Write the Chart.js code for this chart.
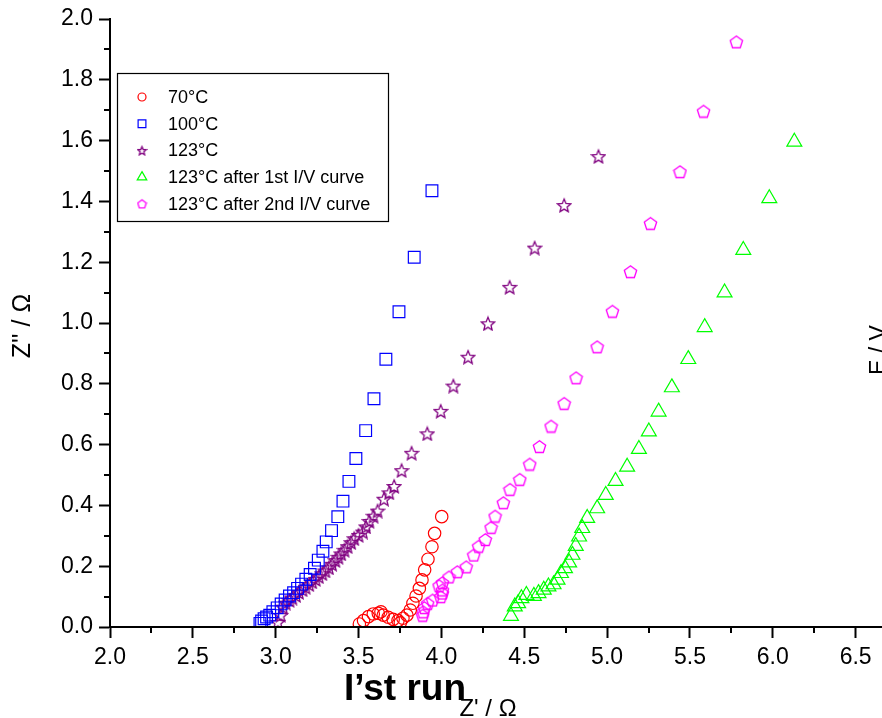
<!DOCTYPE html>
<html>
<head>
<meta charset="utf-8">
<script src="https://cdn.jsdelivr.net/npm/chart.js@4/dist/chart.umd.min.js"></script>
<style>
  html, body { margin: 0; padding: 0; background: #fff; }
  #wrap { width: 882px; height: 718px; overflow: hidden; }
</style>
</head>
<body>
<div id="wrap"><canvas id="eis" width="882" height="718"></canvas></div>
<script>
// Z' / Z'' readings, one [Z', Z''] pair per point
const seriesNames = ['70°C', '100°C', '123°C', '123°C after 1st I/V curve', '123°C after 2nd I/V curve'];

const pts70 = [[3.505,0.010],[3.530,0.021],[3.560,0.034],[3.589,0.043],[3.619,0.045],[3.635,0.050],[3.649,0.039],
  [3.679,0.032],[3.709,0.025],[3.738,0.021],[3.752,0.014],[3.768,0.029],[3.792,0.039],[3.812,0.056],[3.828,0.078],
  [3.847,0.102],[3.867,0.127],[3.883,0.155],[3.899,0.188],[3.919,0.223],[3.943,0.264],[3.959,0.308],[4.002,0.363]];

const pts100 = [[2.905,0.012],[2.915,0.020],[2.930,0.027],[2.945,0.033],[2.964,0.039],[2.983,0.050],[3.009,0.063],
  [3.033,0.076],[3.057,0.089],[3.083,0.102],[3.108,0.113],[3.132,0.127],[3.156,0.141],[3.182,0.157],[3.208,0.173],
  [3.234,0.193],[3.257,0.220],[3.285,0.249],[3.305,0.280],[3.337,0.317],[3.375,0.363],[3.406,0.414],[3.442,0.479],
  [3.484,0.554],[3.543,0.646],[3.593,0.751],[3.665,0.881],[3.744,1.037],[3.836,1.216],[3.943,1.435]];

const pts123 = [[3.013,0.017],[3.030,0.040],[3.043,0.067],[3.060,0.080],[3.083,0.089],[3.100,0.097],[3.122,0.105],
  [3.140,0.115],[3.162,0.124],[3.180,0.132],[3.202,0.141],[3.220,0.150],[3.241,0.158],[3.260,0.167],[3.281,0.177],
  [3.300,0.186],[3.321,0.196],[3.340,0.208],[3.360,0.220],[3.378,0.231],[3.395,0.242],[3.415,0.254],[3.434,0.266],
  [3.455,0.279],[3.474,0.292],[3.500,0.303],[3.526,0.314],[3.545,0.331],[3.565,0.349],[3.590,0.366],[3.615,0.383],
  [3.653,0.422],[3.685,0.443],[3.715,0.464],[3.760,0.516],[3.820,0.573],[3.915,0.637],[3.996,0.711],[4.072,0.794],
  [4.161,0.889],[4.281,0.999],[4.412,1.119],[4.563,1.248],[4.741,1.388],[4.948,1.549]];

const pts1st = [[4.420,0.036],[4.443,0.067],[4.463,0.078],[4.483,0.094],[4.513,0.105],[4.558,0.102],[4.586,0.111],
  [4.618,0.122],[4.646,0.133],[4.677,0.140],[4.701,0.155],[4.722,0.177],[4.746,0.193],[4.771,0.212],[4.791,0.237],
  [4.811,0.266],[4.831,0.297],[4.850,0.325],[4.880,0.358],[4.940,0.390],[4.992,0.434],[5.051,0.480],[5.121,0.527],
  [5.192,0.585],[5.252,0.643],[5.311,0.708],[5.391,0.788],[5.490,0.881],[5.589,0.986],[5.709,1.100],[5.822,1.240],
  [5.979,1.410],[6.130,1.596]];

const pts2nd = [[3.887,0.039],[3.890,0.050],[3.897,0.064],[3.917,0.078],[3.947,0.089],[3.996,0.100],[4.006,0.112],
  [4.006,0.122],[3.986,0.136],[4.006,0.146],[4.046,0.165],[4.096,0.182],[4.150,0.198],[4.195,0.237],[4.225,0.266],
  [4.265,0.288],[4.300,0.328],[4.324,0.365],[4.374,0.409],[4.414,0.453],[4.473,0.486],[4.533,0.536],[4.592,0.594],
  [4.662,0.661],[4.741,0.736],[4.813,0.820],[4.940,0.922],[5.032,1.039],[5.141,1.169],[5.262,1.328],[5.440,1.498],
  [5.582,1.697],[5.780,1.925]];

const xTicks = [2.0, 2.5, 3.0, 3.5, 4.0, 4.5, 5.0, 5.5, 6.0, 6.5];
const yTicks = [0.0, 0.2, 0.4, 0.6, 0.8, 1.0, 1.2, 1.4, 1.6, 1.8, 2.0];

const toXY = arr => arr.map(p => ({ x: p[0], y: p[1] }));

// outline markers Chart.js has no shape for
function starCanvas(size, color) {
  const c = document.createElement('canvas');
  c.width = c.height = size;
  const g = c.getContext('2d');
  const cx = size / 2, cy = size / 2 + size * 0.06;
  const R = size / 2 - 1, r = R * 0.45;
  g.beginPath();
  for (let i = 0; i < 10; i++) {
    const a = -Math.PI / 2 + i * Math.PI / 5;
    const rad = i % 2 ? r : R;
    g[i ? 'lineTo' : 'moveTo'](cx + rad * Math.cos(a), cy + rad * Math.sin(a));
  }
  g.closePath();
  g.strokeStyle = color;
  g.lineWidth = 1.3;
  g.stroke();
  return c;
}

function pentaCanvas(size, color) {
  const c = document.createElement('canvas');
  c.width = c.height = size;
  const g = c.getContext('2d');
  const cx = size / 2, cy = size / 2 + size * 0.05;
  const R = size / 2 - 1;
  g.beginPath();
  for (let i = 0; i < 5; i++) {
    const a = -Math.PI / 2 + i * 2 * Math.PI / 5;
    g[i ? 'lineTo' : 'moveTo'](cx + R * Math.cos(a), cy + R * Math.sin(a));
  }
  g.closePath();
  g.strokeStyle = color;
  g.lineWidth = 1.3;
  g.stroke();
  return c;
}

const colors = ['#ff0000', '#0000ff', '#800080', '#00ff00', '#ff00ff'];
const starBig = starCanvas(16, colors[2]), starSmall = starCanvas(11, colors[2]);
const pentBig = pentaCanvas(15, colors[4]), pentSmall = pentaCanvas(11, colors[4]);

const styles = [
  { pointStyle: 'circle', radius: 6.2, legend: { style: 'circle', r: 4 } },
  { pointStyle: 'rect', radius: 8.3, legend: { style: 'rect', r: 5.5 } },
  { pointStyle: starBig, radius: 7, legend: { style: starSmall, r: 5 } },
  { pointStyle: 'triangle', radius: 8.6, legend: { style: 'triangle', r: 5.5 } },
  { pointStyle: pentBig, radius: 7, legend: { style: pentSmall, r: 5 } }
];

const allPts = [pts70, pts100, pts123, pts1st, pts2nd];

const datasets = allPts.map((arr, i) => ({
  label: seriesNames[i],
  data: toXY(arr),
  showLine: false,
  pointStyle: styles[i].pointStyle,
  pointRadius: styles[i].radius,
  pointBorderWidth: 1.2,
  pointBorderColor: colors[i],
  pointBackgroundColor: 'rgba(0,0,0,0)',
  borderColor: colors[i],
  backgroundColor: 'rgba(0,0,0,0)'
}));

// minor ticks, boxed legend and loose annotations
const decor = {
  id: 'decor',
  afterDraw(chart) {
    const ctx = chart.ctx;
    const xs = chart.scales.x, ys = chart.scales.y;
    const ca = chart.chartArea;
    ctx.save();
    ctx.strokeStyle = '#000';
    ctx.lineWidth = 2;
    // stretch the bottom axis to the edge
    ctx.beginPath();
    ctx.moveTo(ca.left, ca.bottom);
    ctx.lineTo(882, ca.bottom);
    ctx.stroke();
    ctx.beginPath();
    for (let v = 2.25; v < 6.6; v += 0.5) {
      const px = Math.round(xs.getPixelForValue(v));
      ctx.moveTo(px, ca.bottom);
      ctx.lineTo(px, ca.bottom + 6);
    }
    for (let v = 0.1; v < 2; v += 0.2) {
      const py = Math.round(ys.getPixelForValue(v));
      ctx.moveTo(ca.left, py);
      ctx.lineTo(ca.left - 6, py);
    }
    ctx.stroke();

    // legend box
    ctx.lineWidth = 1.2;
    ctx.strokeRect(117.5, 73.5, 271, 148);
    ctx.font = '18px "Liberation Sans", Arial, sans-serif';
    ctx.textBaseline = 'middle';
    ctx.textAlign = 'left';
    ctx.fillStyle = '#000';
    seriesNames.forEach((name, i) => {
      const y = 97 + i * 26.7;
      ctx.strokeStyle = colors[i];
      ctx.fillStyle = 'rgba(0,0,0,0)';
      ctx.lineWidth = 1.2;
      Chart.helpers.drawPoint(ctx, { pointStyle: styles[i].legend.style, radius: styles[i].legend.r, rotation: 0, borderWidth: 1.2 }, 142, y);
      ctx.fillStyle = '#000';
      ctx.fillText(name, 168, y + 1);
    });

    // axis titles and notes
    ctx.fillStyle = '#000';
    ctx.font = '25px "Liberation Sans", Arial, sans-serif';
    ctx.textAlign = 'center';
    ctx.textBaseline = 'middle';
    ctx.save();
    ctx.translate(23, 326);
    ctx.rotate(-Math.PI / 2);
    ctx.fillText("Z'' / \u03A9", 0, 0);
    ctx.restore();

    ctx.font = '24px "Liberation Sans", Arial, sans-serif';
    ctx.textBaseline = 'alphabetic';
    ctx.fillText("Z' / \u03A9", 488, 716);

    ctx.font = 'bold 37px "Liberation Sans", Arial, sans-serif';
    ctx.fillText("I\u2019st run", 405, 700);

    ctx.font = '23px "Liberation Sans", Arial, sans-serif';
    ctx.save();
    ctx.translate(886, 350);
    ctx.rotate(-Math.PI / 2);
    ctx.fillText('E / V', 0, 0);
    ctx.restore();
    ctx.restore();
  }
};

new Chart(document.getElementById('eis'), {
  type: 'scatter',
  data: { datasets },
  options: {
    responsive: false,
    animation: false,
    devicePixelRatio: 1,
    layout: { padding: { top: 19, right: 0, bottom: 0, left: 0 } },
    plugins: { legend: { display: false }, tooltip: { enabled: false } },
    scales: {
      x: {
        type: 'linear',
        min: 2,
        max: 6.6,
        afterFit(s) { s.height = 91; s.paddingLeft = 0; s.paddingRight = 0; },
        afterBuildTicks(s) { s.ticks = xTicks.map(v => ({ value: v })); },
        ticks: {
          callback: v => v.toFixed(1),
          color: '#000',
          padding: 6,
          maxRotation: 0,
          autoSkip: false,
          font: { family: '"Liberation Sans", Arial, sans-serif', size: 23 }
        },
        grid: { drawOnChartArea: false, drawTicks: true, tickLength: 11, tickColor: '#000', tickWidth: 2 },
        border: { display: true, color: '#000', width: 2 }
      },
      y: {
        type: 'linear',
        min: 0,
        max: 2,
        afterFit(s) { s.width = 110; s.paddingTop = 0; s.paddingBottom = 0; },
        afterBuildTicks(s) { s.ticks = yTicks.map(v => ({ value: v })); },
        ticks: {
          callback: v => v.toFixed(1),
          color: '#000',
          padding: 6,
          autoSkip: false,
          font: { family: '"Liberation Sans", Arial, sans-serif', size: 23 }
        },
        grid: { drawOnChartArea: false, drawTicks: true, tickLength: 11, tickColor: '#000', tickWidth: 2 },
        border: { display: true, color: '#000', width: 2 }
      }
    }
  },
  plugins: [decor]
});
</script>
</body>
</html>
